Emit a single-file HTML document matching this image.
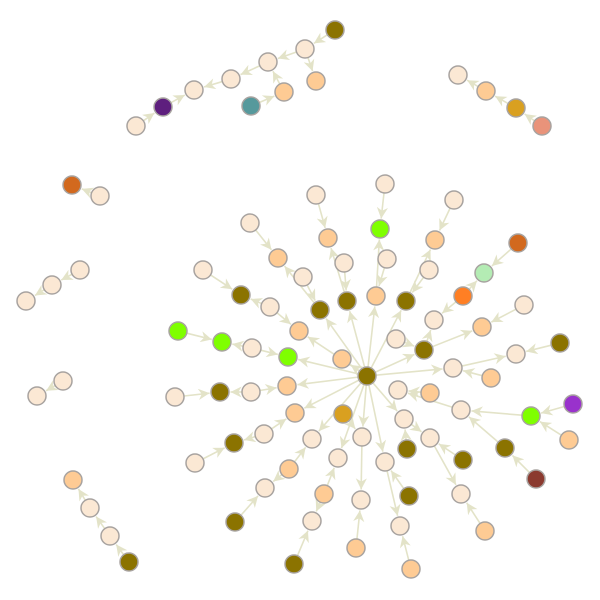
<!DOCTYPE html>
<html><head><meta charset="utf-8"><style>
html,body{margin:0;padding:0;background:#fff;}
svg{display:block;}
</style></head><body>
<svg id="g" width="600" height="600" viewBox="0 0 600 600">
<defs><marker id="arr" viewBox="0 0 10 10" refX="10" refY="5" markerWidth="7" markerHeight="7" orient="auto"><path d="M0,0 L10,5 L0,10 L3,5 z" fill="#e3e3c8"/></marker></defs>
<g id="edges"></g>
<g id="nodes"></g>
</svg>
<script>
const C={L:"#fbe8d4",P:"#fecb94",O:"#8b7300",G:"#7fff00",PU:"#5e1f7e",T:"#56999c",GD:"#d9a020",SA:"#e9937a",DO:"#d2691e",PG:"#b4ecb4",OR:"#ff7f24",VI:"#9932cc",BR:"#8b3a2f"};
const nodeIds=["h","A","B","C","D","E","F","G","H","I","J","t1","t2","t3","t4","l1","l2","l3","l4","l5","l6","l7","b1","b2","b3","b4",
"n1","n2","n3","n4","n5","n6","n7","n8","n9","n10","n11","n12","n13","n14","n15","n16","n17",
"m1","m2","m3","m4","m5","m6","m7","m8","m9","m10","m11","m12","m13","m14","m15","m16","m17","m18","m19","m20",
"p1","p2","p3","p4","p5","p6","p7","p8","p9","p10","p11","p12","p13","p14","p15","p16","p17","p18","p19","p20",
"q1","q2","q3","q4","q5","q6","q7","q8","q9","q10","q11","q12","q13","q14","q15","q16","q17","q18"];
const nodeX=[367,335,305,268,231,194,163,136,316,284,251,458,486,516,542,72,100,80,52,26,63,37,73,90,110,129,
316,328,344,347,250,278,303,320,203,241,270,299,178,222,252,288,342,
385,380,387,376,454,435,429,406,518,484,463,434,396,424,524,482,560,516,453,491,
175,220,251,287,295,264,234,195,343,312,289,265,235,338,324,312,294,362,361,356,
398,430,461,531,573,569,505,536,404,407,430,463,461,485,385,409,400,411];
const nodeY=[376,30,49,62,79,90,107,126,81,92,106,75,91,108,126,185,196,270,285,301,381,396,480,508,536,562,
195,238,263,301,223,258,277,310,270,295,307,331,331,342,348,357,359,
184,229,259,296,200,240,270,301,243,273,296,320,339,350,305,327,343,354,368,378,
397,392,392,386,413,434,443,463,414,439,469,488,522,458,494,521,564,437,500,548,
390,393,410,416,404,440,448,479,419,449,438,460,494,531,462,496,526,569];
const nodeCol=["O","O","L","L","L","L","PU","L","P","P","T","L","P","GD","SA","DO","L","L","L","L","L","L","P","L","L","O",
"L","P","L","O","L","P","L","O","L","O","L","P","G","G","L","G","P",
"L","G","L","P","L","P","L","O","DO","PG","OR","L","L","O","L","P","O","L","L","P",
"L","O","L","P","P","L","O","L","GD","L","P","L","O","L","P","L","O","L","L","P",
"L","P","L","G","VI","P","O","BR","L","O","L","O","L","P","L","O","L","P"];
const edgeFrom=["A","B","C","D","F","G","B","I","J","t2","t3","t4","l2","l3","l4","l6","b2","b3","b4",
"n1","n4","n3","h","n5","n8","n7","h","n9","n11","n11","h","n13","n15","n15","h","h",
"m1","m4","m3","h","m5","m8","m7","h","m9","m11","m11","m14","m13","h","m15","m14","m17","h","m19","m20",
"p1","p3","p3","h","h","p6","p6","p8","h","p11","p11","p13","h","p15","p15","p17","h","p9","p18","p20",
"q2","q4","q5","q6","q8","q7","q3","h","q10","q9","q12","q11","q14","h","q16","q15","q18"];
const edgeTo=["B","C","D","E","E","F","H","C","I","t1","t2","t3","l1","l4","l5","l7","b1","b2","b3",
"n2","n2","n4","n4","n6","n6","n8","n8","n10","n10","n12","n12","n14","n14","n16","n16","n17",
"m2","m2","m4","m4","m6","m6","m8","m8","m10","m10","m12","m12","m14","m14","m16","m16","m18","m19","m18","m19",
"p2","p2","p4","p4","p5","p5","p7","p7","p10","p10","p12","p12","p14","p14","p16","p16","p18","p18","p19","p19",
"q1","q3","q4","q4","q7","q3","q1","q9","q9","q11","q11","q13","q13","q15","q15","q17","q17"];
const R=9,NS="http://www.w3.org/2000/svg";
const idx=id=>nodeIds.indexOf(id);
const eg=document.getElementById('edges'),ng=document.getElementById('nodes');
for(let k=0;k<edgeFrom.length;k++){
  const a=idx(edgeFrom[k]),b=idx(edgeTo[k]);
  const x1=nodeX[a],y1=nodeY[a],x2=nodeX[b],y2=nodeY[b];
  const d=Math.hypot(x2-x1,y2-y1)||1,ux=(x2-x1)/d,uy=(y2-y1)/d;
  const l=document.createElementNS(NS,'line');
  
  
  l.setAttribute('x1',x1+ux*R);l.setAttribute('y1',y1+uy*R);
  l.setAttribute('x2',x2-ux*(R+1.5));l.setAttribute('y2',y2-uy*(R+1.5));
  l.setAttribute('stroke','#e3e3c8');l.setAttribute('stroke-width','1.6');
  l.setAttribute('marker-end','url(#arr)');
  eg.appendChild(l);
}
for(let i=0;i<nodeIds.length;i++){
  const c=document.createElementNS(NS,'circle');
  
  
  c.setAttribute('cx',nodeX[i]);c.setAttribute('cy',nodeY[i]);c.setAttribute('r',R);
  c.setAttribute('fill',C[nodeCol[i]]);c.setAttribute('stroke','#a8a3a0');c.setAttribute('stroke-width','1.5');
  ng.appendChild(c);
}
</script>
</body></html>
